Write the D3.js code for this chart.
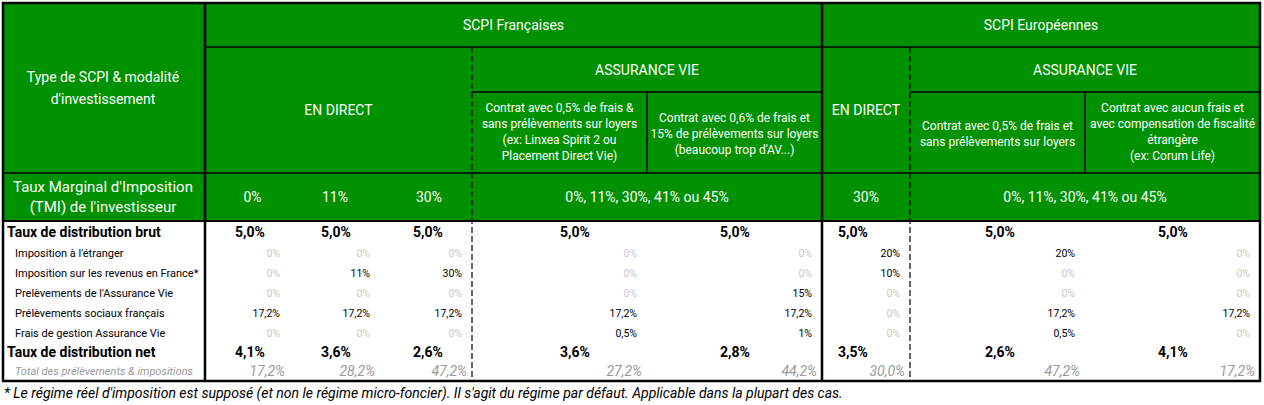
<!DOCTYPE html><html><head><meta charset="utf-8"><script src="https://cdn.jsdelivr.net/npm/d3@7"></script>
<style>body{margin:0;background:#fff}text{font-family:Roboto,sans-serif}</style></head><body><svg id="c" width="1264" height="405"></svg>
<script>
const columns=["0%","11%","30%","AV1","AV2","EU direct","EU AV1","EU AV2"];
const rowLabels=["Imposition à l'étranger","Imposition sur les revenus en France*","Prelèvements de l'Assurance Vie","Prélèvements sociaux français","Frais de gestion Assurance Vie"];
const brut=["5,0%","5,0%","5,0%","5,0%","5,0%","5,0%","5,0%","5,0%"];
const detail=[
 ["0%","0%","0%","0%","0%","20%","20%","0%"],
 ["0%","11%","30%","0%","0%","10%","0%","0%"],
 ["0%","0%","0%","0%","15%","0%","0%","0%"],
 ["17,2%","17,2%","17,2%","17,2%","17,2%","0%","17,2%","17,2%"],
 ["0%","0%","0%","0,5%","1%","0%","0,5%","0%"]];
const net=["4,1%","3,6%","2,6%","3,6%","2,8%","3,5%","2,6%","4,1%"];
const total=["17,2%","28,2%","47,2%","27,2%","44,2%","30,0%","47,2%","17,2%"];
const tmi=["0%","11%","30%","0%, 11%, 30%, 41% ou 45%","30%","0%, 11%, 30%, 41% ou 45%"];

const G="#009100",svg=d3.select("#c");
// column edges
const edges=[3,205,290,380,472,647,822,910,1085,1260];
const x=d3.scaleOrdinal().domain(d3.range(edges.length)).range(edges);
const X=i=>x(i);
// rows
const y=d3.scaleOrdinal().domain(["t","r2","r3","tmi","data","end"]).range([3,47,92,173,221,381]);
const rowH=20, brutC=232, detY=i=>253+i*rowH, netC=352, totC=371;
// header background
svg.append("rect").attr("x",X(0)).attr("y",y("t")).attr("width",X(9)-X(0)).attr("height",y("data")-y("t")).attr("fill",G);
function line(x1,y1,x2,y2,w,dash){svg.append("line").attr("x1",x1).attr("y1",y1).attr("x2",x2).attr("y2",y2).attr("stroke","#000").attr("stroke-width",w||1.5).attr("stroke-dasharray",dash||null);}
function txt(t,xx,yy,o){o=o||{};svg.append("text").attr("x",xx).attr("y",yy).attr("text-anchor",o.a||"middle").attr("dominant-baseline","central").attr("fill",o.c||"#000").attr("font-size",o.s||13).attr("font-weight",o.w||400).attr("font-style",o.i?"italic":null).text(t);}
function mtxt(lines,xx,yc,lh,o){lines.forEach((l,i)=>txt(l,xx,yc+(i-(lines.length-1)/2)*lh,o));}
// lines header
line(X(1),y("r2"),X(9),y("r2"));
line(X(4),y("r3"),X(6),y("r3"));line(X(7),y("r3"),X(9),y("r3"));
line(X(0),y("tmi"),X(9),y("tmi"));
line(X(0),y("data"),X(9),y("data"),2);
line(X(5),y("r3"),X(5),y("tmi"));line(X(8),y("r3"),X(8),y("tmi"));
line(X(1),y("t"),X(1),y("end"),2.5);line(X(6),y("t"),X(6),y("end"),2.5);
line(X(4),y("r2"),X(4),y("end"),1.2,"6,3");line(X(7),y("r2"),X(7),y("end"),1.2,"6,3");
svg.append("rect").attr("x",X(0)).attr("y",y("t")).attr("width",X(9)-X(0)).attr("height",y("end")-y("t")).attr("fill","none").attr("stroke","#000").attr("stroke-width",2.5);
const W={c:"#fff",s:14};
txt("SCPI Françaises",(X(1)+X(6))/2,25,W);txt("SCPI Européennes",(X(6)+X(9))/2,25,W);
mtxt(["Type de SCPI & modalité","d'investissement"],X(0)+100,88,22,W);
txt("EN DIRECT",(X(1)+X(4))/2,110,W);txt("EN DIRECT",(X(6)+X(7))/2,110,W);
txt("ASSURANCE VIE",(X(4)+X(6))/2,70,W);txt("ASSURANCE VIE",(X(7)+X(9))/2,70,W);
const S={c:"#fff",s:12};
mtxt(["Contrat avec 0,5% de frais &","sans prélèvements sur loyers","(ex: Linxea Spirit 2 ou","Placement Direct Vie)"],(X(4)+X(5))/2,132,16,S);
mtxt(["Contrat avec 0,6% de frais et","15% de prélèvements sur loyers","(beaucoup trop d'AV...)"],(X(5)+X(6))/2,134,16,S);
mtxt(["Contrat avec 0,5% de frais et","sans prélèvements sur loyers"],(X(7)+X(8))/2,134,16,S);
mtxt(["Contrat avec aucun frais et","avec compensation de fiscalité","étrangère","(ex: Corum Life)"],(X(8)+X(9))/2,132,16,S);
mtxt(["Taux Marginal d'Imposition","(TMI) de l'investisseur"],X(0)+100,197,20,{c:"#fff",s:15});
const tmiX=[(X(1)+X(2))/2+5,(X(2)+X(3))/2,(X(3)+X(4))/2+3,(X(4)+X(6))/2,(X(6)+X(7))/2,(X(7)+X(9))/2];
tmi.forEach((t,i)=>txt(t,tmiX[i],197,{c:"#fff",s:14}));
// data
const boldX=[250,336,428,575,735,853,1000,1173];
const rightX=columns.map((c,i)=>X(i+2)-10);
txt("Taux de distribution brut",X(0)+4,brutC,{a:"start",s:14,w:700});
txt("Taux de distribution net",X(0)+4,netC,{a:"start",s:14,w:700});
txt("Total des prélèvements & impositions",X(0)+12,totC,{a:"start",s:11,i:1,c:"#999"});
rowLabels.forEach((l,i)=>txt(l,X(0)+12,detY(i),{a:"start",s:11}));
columns.forEach((c,j)=>{
 txt(brut[j],boldX[j],brutC,{s:14,w:700});txt(net[j],boldX[j],netC,{s:14,w:700});
 txt(total[j],rightX[j]+5,totC,{a:"end",s:14,i:1,c:"#999"});
 detail.forEach((r,i)=>txt(r[j],rightX[j],detY(i),{a:"end",s:10.5,c:r[j]==="0%"?"#c8c8c8":"#000"}));
});
txt("* Le régime réel d'imposition est supposé (et non le régime micro-foncier). Il s'agit du régime par défaut. Applicable dans la plupart des cas.",4,393,{a:"start",s:14,i:1});
</script></body></html>
